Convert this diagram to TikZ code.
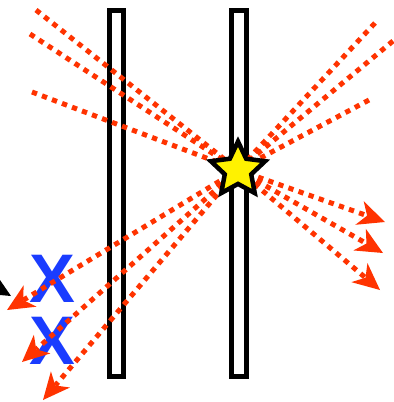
\documentclass[tikz,border=0pt]{standalone}
\usepackage{fontspec}
\setmainfont{Liberation Sans}
\usetikzlibrary{arrows.meta,shapes.geometric}
\definecolor{rayred}{RGB}{255,51,0}
\definecolor{xblue}{RGB}{26,60,255}
\tikzset{
  bar/.style={draw=black, fill=white, line width=5bp, inner sep=0pt, outer sep=0pt, anchor=north west},
  ray/.style={draw=rayred, line width=5bp, dash pattern=on 5.3bp off 5.4bp},
  rayarrow/.style={ray, -{Stealth[length=27bp,width=25bp,inset=8bp,line width=0pt]}},
  xmark/.style={text=xblue, font=\fontsize{69}{69}\selectfont\bfseries, inner sep=0pt},
  starnode/.style={star, star points=5, star point ratio=2.05, minimum size=57bp, inner sep=0pt,
    draw=black, fill=yellow, line width=4.5bp}
}
\begin{document}
\begin{tikzpicture}[x=1bp,y=-1bp]
\useasboundingbox (0,0) rectangle (394,402);
% bars
\node[bar, minimum width=14bp, minimum height=366bp] (barL) at (109.5,10.5) {};
\node[bar, minimum width=15bp, minimum height=366bp] (barR) at (231.5,10.5) {};
% X marks
\node[xmark] (x1) at (52,278.5) {X};
\node[xmark] (x2) at (52,341) {X};
% black clipped arrowhead
\fill[black] (0,280) -- (11,296) -- (0,295) -- cycle;
% centre
\coordinate (c) at (238,170);
% incoming rays
\coordinate (l1) at (36,10);
\coordinate (l2) at (30,34);
\coordinate (l3) at (32,92);
\coordinate (r1) at (375,23);
\coordinate (r2) at (393,41);
\coordinate (r3) at (369,100);
\foreach \p in {l1,l2,l3,r1,r2,r3} \draw[ray] (\p) -- (c);
% outgoing rays
\coordinate (a1) at (385,222);
\coordinate (a2) at (383,253);
\coordinate (a3) at (380,290);
\coordinate (b1) at (7,310);
\coordinate (b2) at (22,362);
\coordinate (b3) at (43,400);
\foreach \p in {a1,a2,a3,b1,b2,b3} \draw[rayarrow] (c) -- (\p);
% star
\node[starnode] (star) at (c) {};
\end{tikzpicture}
\end{document}
